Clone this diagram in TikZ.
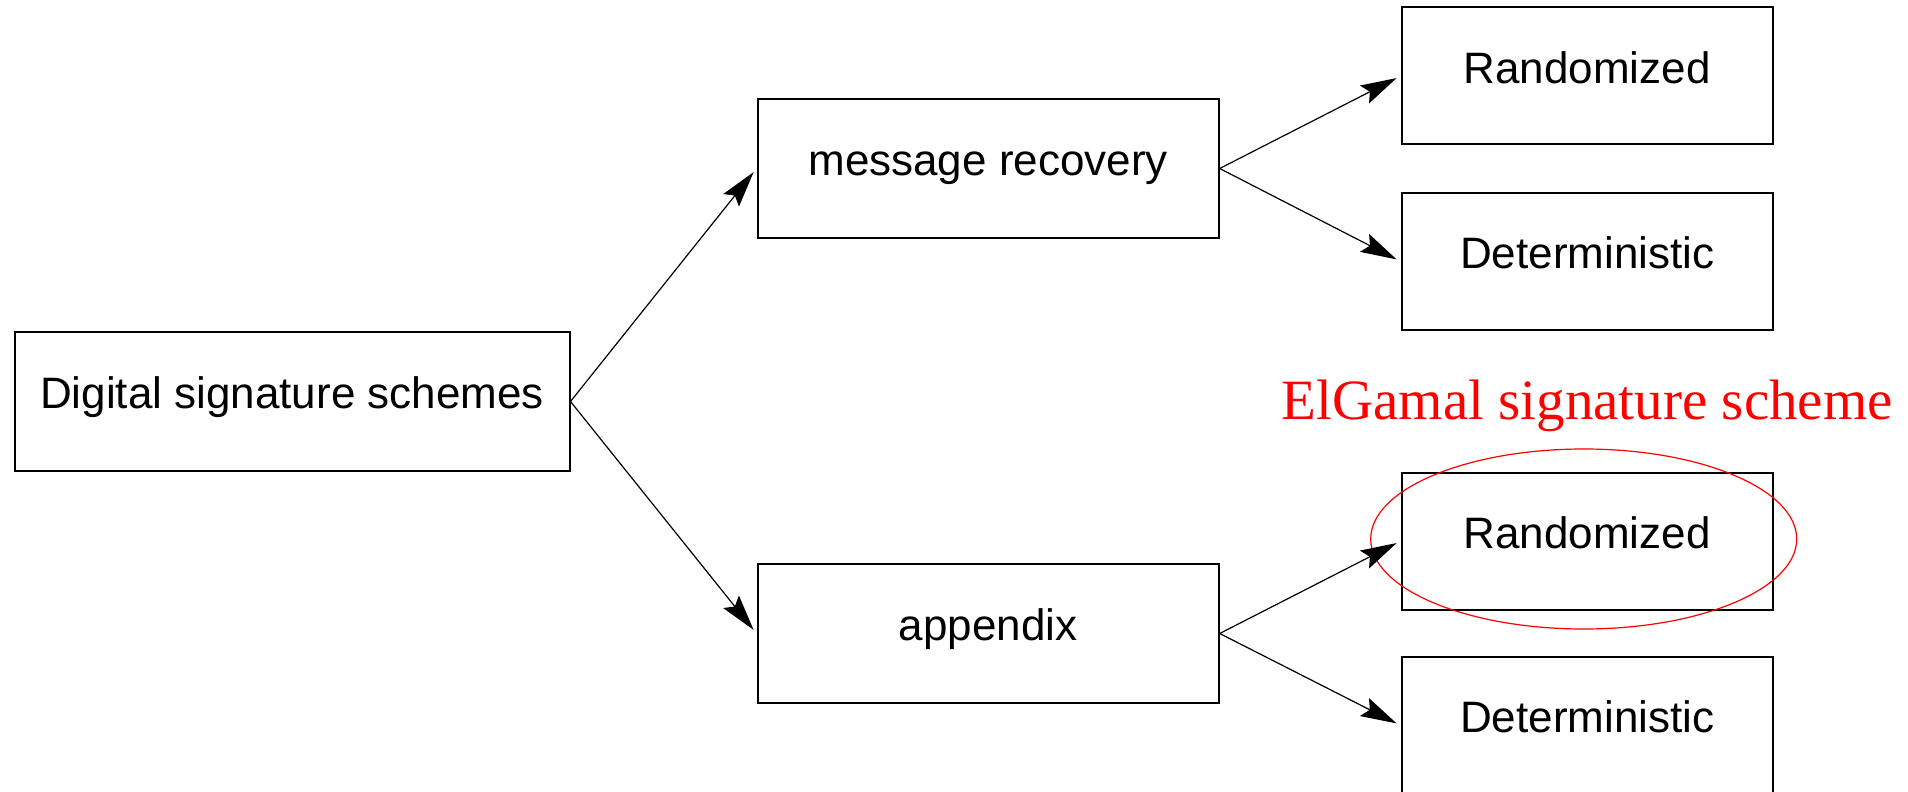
\documentclass[tikz,border=0pt]{standalone}
\usepackage{fontspec}
\setmainfont{Liberation Sans}
\newfontfamily\serifred{Liberation Serif}
\usepackage{tikz}
\usetikzlibrary{arrows.meta, positioning, calc}
\definecolor{markred}{RGB}{255,0,0}
\tikzset{
  basebox/.style={rectangle,draw=black,line width=1pt,inner sep=0pt,
    font=\fontsize{22}{26}\selectfont,text height=0.72em,text depth=0em},
  rootnode/.style={basebox,minimum width=277.5pt,minimum height=69.5pt},
  kindnode/.style={basebox,minimum width=230.6pt,minimum height=69.5pt},
  leafnode/.style={basebox,minimum width=185.5pt,minimum height=68.5pt},
  notenode/.style={inner sep=0pt,text=markred,font=\serifred\fontsize{28.5}{34}\selectfont},
  arr/.style={-{Stealth[length=18pt,width=10pt,inset=3pt]},line width=0.6pt,shorten >=2.3pt}
}

\begin{document}
\begin{tikzpicture}
  \useasboundingbox (0,0) rectangle (954pt,-396pt);
  \clip (0,0) rectangle (954pt,-396pt);

  \node[rootnode] (root) at (146pt,-200.75pt) {Digital signature schemes};
  \node[kindnode,above right=46pt and 93pt of root] (msgrec) {message recovery};
  \node[kindnode,below right=45.5pt and 93pt of root] (appx) {appendix};

  %% Leaves
  \node[leafnode,right=90.5pt of msgrec,yshift=46.25pt] (rnd1) {Randomized};
  \node[leafnode,right=90.5pt of msgrec,yshift=-46.5pt] (det1) {Deterministic};
  \node[leafnode,right=90.5pt of appx,yshift=46.25pt] (rnd2) {Randomized};
  \node[leafnode,right=90.5pt of appx,yshift=-46pt] (det2) {Deterministic};

  %% Highlight
  \node[notenode,above=19.8pt of rnd2] (elgamal) {ElGamal signature scheme};
  \draw[markred,line width=0.6pt] ($(rnd2.center)+(-1.75pt,1pt)$)
    ellipse [x radius=106.5pt,y radius=45pt];

  \draw[arr] (root.east) -- (msgrec.west);
  \draw[arr] (root.east) -- (appx.west);
  \draw[arr] (msgrec.east) -- (rnd1.west);
  \draw[arr] (msgrec.east) -- (det1.west);
  \draw[arr] (appx.east) -- (rnd2.west);
  \draw[arr] (appx.east) -- (det2.west);
\end{tikzpicture}
\end{document}
